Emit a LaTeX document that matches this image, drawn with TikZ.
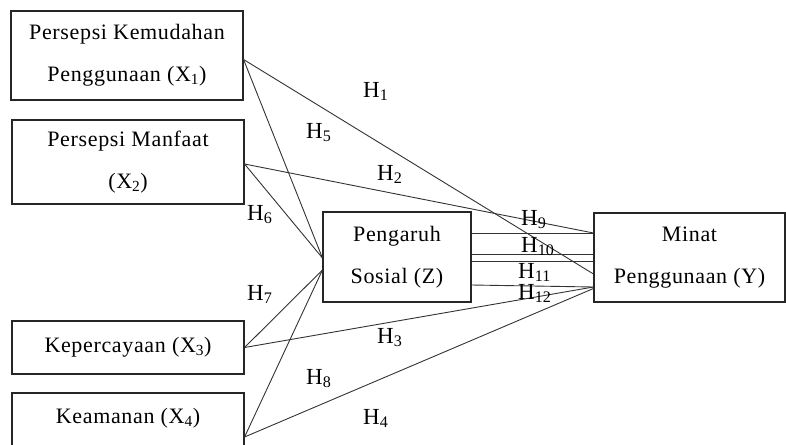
\documentclass[tikz,border=0pt]{standalone}
\usepackage{fontspec}
\setmainfont{Liberation Serif}
\newfontfamily\boxfont{Liberation Serif}[LetterSpace=3]
\begin{document}
\begin{tikzpicture}[x=1pt,y=-1pt,
  box/.style={draw=black!85,line width=1.1pt,align=center,inner sep=0pt,
    font=\boxfont\fontsize{22}{42}\selectfont},
  link/.style={draw=black!80,line width=0.9pt},
  hyp/.style={anchor=base west,inner sep=0pt,font=\fontsize{23}{23}\selectfont}]
\clip (0,0) rectangle (786,444);
% variabel
\node[box,minimum width=232pt,minimum height=89pt] (x1) at (127,55.5) {Persepsi Kemudahan\\Penggunaan (X\textsubscript{1})};
\node[box,minimum width=232pt,minimum height=84pt] (x2) at (128,162) {Persepsi Manfaat\\(X\textsubscript{2})};
\node[box,minimum width=232pt,minimum height=53pt] (x3) at (128,347.5) {Kepercayaan (X\textsubscript{3})};
\node[box,minimum width=232pt,minimum height=88pt] (x4) at (128,437) {Keamanan (X\textsubscript{4})\\~};
\node[box,minimum width=148pt,minimum height=90pt] (z) at (397,257) {Pengaruh\\Sosial (Z)};
\node[box,minimum width=191pt,minimum height=89pt] (y) at (689.5,257.5) {Minat\\Penggunaan (Y)};
% titik sambung
\coordinate (x1p) at ([yshift=-4pt]x1.east);
\coordinate (x2p) at ([yshift=-2pt]x2.east);
\coordinate (zup) at ([yshift=-1pt]z.west);
\coordinate (zlo) at ([yshift=-13pt]z.west);
\coordinate (z9) at ([yshift=24pt]z.east);
\coordinate (z10) at ([yshift=3pt]z.east);
\coordinate (z11) at ([yshift=-4pt]z.east);
\coordinate (z12) at ([yshift=-28pt]z.east);
\coordinate (y2) at ([yshift=24.5pt]y.west);
\coordinate (y10) at ([yshift=3.5pt]y.west);
\coordinate (y11) at ([yshift=-3.5pt]y.west);
\coordinate (y1) at ([yshift=-16.5pt]y.west);
\coordinate (y3) at ([yshift=-29.5pt]y.west);
\coordinate (y4) at ([yshift=-31pt]y.west);
% jalur
\foreach \a/\b in {x1p/zup, x1p/y1, x2p/zup, x2p/y2, x3.east/zlo, x3.east/y3,
  x4.east/zlo, x4.east/y4, z9/y2, z10/y10, z11/y11, z12/y3}
  \draw[link] (\a) -- (\b);
% hipotesis
\foreach \n/\px/\py in {1/363/97, 2/377/180, 3/377/343, 4/363/424, 5/306/138,
  6/247/220, 7/247/300, 8/306/384, 9/521/225, 10/521/252, 11/518/278, 12/518/299}
  \node[hyp] (h\n) at (\px,\py) {H\textsubscript{\n}};
\end{tikzpicture}
\end{document}
